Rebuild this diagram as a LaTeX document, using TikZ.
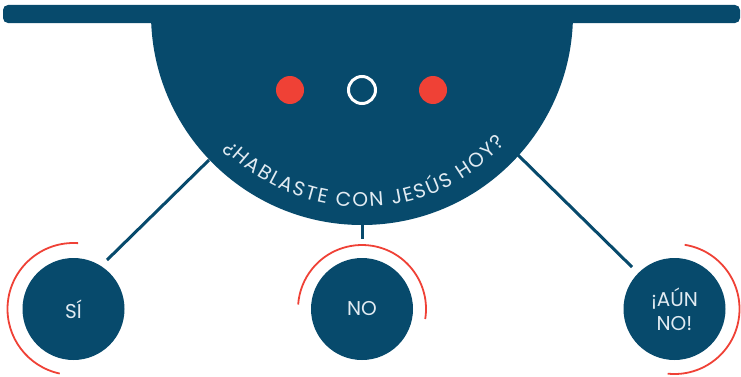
\documentclass[tikz,border=0pt]{standalone}
\usepackage{fontspec}
\setmainfont{Poppins}
\usetikzlibrary{decorations.text}
\definecolor{navy}{RGB}{7,74,108}
\definecolor{redc}{RGB}{239,65,54}
\definecolor{lt}{RGB}{225,235,242}
\begin{document}
\begin{tikzpicture}[x=1pt,y=1pt,
  answer/.style={circle,fill=navy,minimum size=102pt,inner sep=0pt,text=lt,font=\fontsize{20}{24}\selectfont,align=center},
  ring/.style={draw=redc,line width=1.8pt},
  link/.style={draw=navy,line width=3pt},
  reddot/.style={circle,fill=redc,minimum size=28pt,inner sep=0pt},
  hollow/.style={circle,draw=white,line width=3pt,minimum size=27pt,inner sep=0pt}]
\useasboundingbox (0,0) rectangle (741,376);
% head
\fill[navy] (151,362) arc[start angle=180,end angle=360,radius=211] -- cycle;
\fill[navy,rounded corners=5pt] (3,353) rectangle (740,371);
\node[reddot] (d1) at (290,286) {};
\node[hollow] (d2) at (362,286) {};
\node[reddot] (d3) at (433,286) {};
% text on arc
\path[decorate,decoration={text along path,text align=fit to path,
  text={|\color{lt}\fontsize{20}{24}\selectfont|¿HABLASTE CON JESÚS HOY?}}]
  (362,362) ++(224:193) arc[start angle=224,end angle=318,radius=193];
% answers
\node[answer] (si) at (73.5,67) {SÍ};
\node[answer] (no) at (362,67) {NO};
\node[answer] (aun) at (674.5,67) {¡AÚN\\NO!};
\draw[ring] (si.center) ++(86:66) arc[start angle=86,end angle=258,radius=66];
\draw[ring] (no.center) ++(-9:64) arc[start angle=-9,end angle=176,radius=64];
\draw[ring] (aun.center) ++(-96:65) arc[start angle=-96,end angle=81,radius=65];
% connectors
\coordinate (h1) at (209,216);
\coordinate (h2) at (362,152);
\coordinate (h3) at (518,221);
\coordinate (e1) at (107,116);
\coordinate (e2) at (362,137);
\coordinate (e3) at (632,109);
\draw[link] (h1) -- (e1);
\draw[link] (h2) -- (e2);
\draw[link] (h3) -- (e3);
\end{tikzpicture}
\end{document}
